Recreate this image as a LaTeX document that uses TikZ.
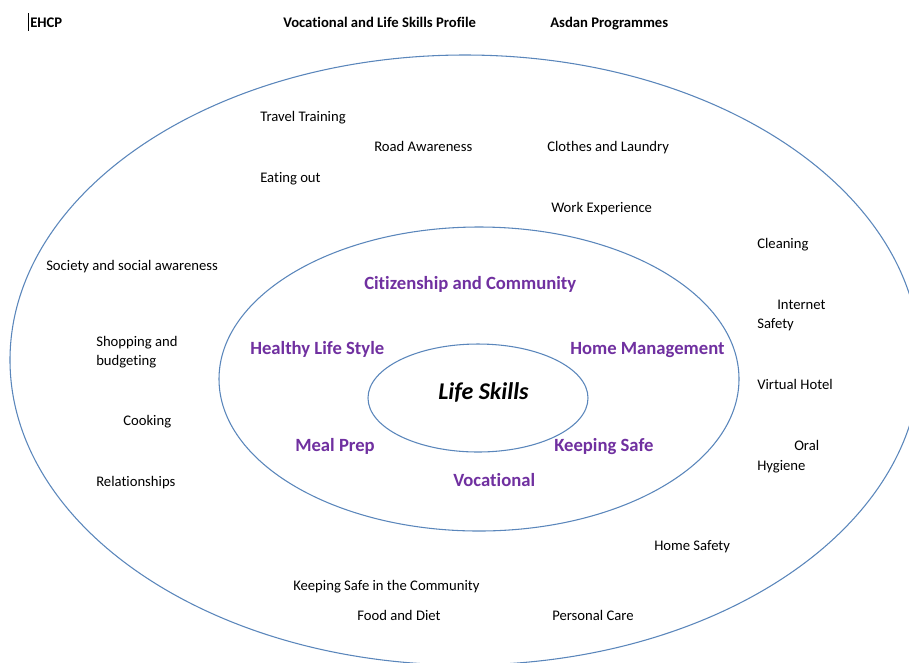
\documentclass[tikz,border=0pt]{standalone}
\usepackage{fontspec}
\setmainfont{Carlito}[Ligatures={NoCommon}]
\definecolor{ringblue}{HTML}{5A86BB}
\definecolor{catviolet}{HTML}{7030A0}
\begin{document}
\begin{tikzpicture}[x=0.75pt,y=-0.75pt,
  lbl/.style={anchor=base west, inner sep=0pt, font=\fontsize{11}{13}\selectfont},
  hdr/.style={anchor=base west, inner sep=0pt, font=\fontsize{11}{13}\selectfont\bfseries},
  cat/.style={anchor=base west, inner sep=0pt, font=\fontsize{14}{17}\selectfont\bfseries, text=catviolet},
  ring/.style={draw=ringblue, line width=0.8pt}]
\useasboundingbox (0,0) rectangle (909,662);
\fill[white] (0,0) rectangle (909,662);
\clip (0,0) rectangle (909,662);
% rings
\draw[ring] (465,360) ellipse [x radius=455, y radius=305];
\draw[ring] (479,379) ellipse [x radius=260, y radius=152];
\draw[ring] (478,398) ellipse [x radius=110, y radius=54];
% header
\draw[line width=0.6pt] (28.5,13) -- (28.5,31);
\node[hdr] (ehcp) at (30,27) {EHCP};
\node[hdr] (profile) at (283,27) {Vocational and Life Skills Profile};
\node[hdr] (asdan) at (550,27) {Asdan Programmes};
% outer ring items
\node[lbl] (travel) at (260,121) {Travel Training};
\node[lbl] (road) at (374,151) {Road Awareness};
\node[lbl] (clothes) at (547,151) {Clothes and Laundry};
\node[lbl] (eating) at (260,182) {Eating out};
\node[lbl] (work) at (551,212) {Work Experience};
\node[lbl] (cleaning) at (757,248) {Cleaning};
\node[lbl] (society) at (46,270) {Society and social awareness};
\node[lbl] (internet) at (777,309) {Internet};
\node[lbl] (internet2) at (757,328) {Safety};
\node[lbl] (shopping) at (96,346) {Shopping and};
\node[lbl] (shopping2) at (96,365) {budgeting};
\node[lbl] (hotel) at (757,389) {Virtual Hotel};
\node[lbl] (cooking) at (123,425) {Cooking};
\node[lbl] (oral) at (794,450) {Oral};
\node[lbl] (oral2) at (757,470) {Hygiene};
\node[lbl] (relations) at (96,486) {Relationships};
\node[lbl] (homesafety) at (654,550) {Home Safety};
\node[lbl] (ksc) at (293,590) {Keeping Safe in the Community};
\node[lbl] (food) at (357,620) {Food and Diet};
\node[lbl] (personal) at (552,620) {Personal Care};
% middle ring categories
\node[cat] (citizen) at (364,289) {Citizenship and Community};
\node[cat] (healthy) at (250,354) {Healthy Life Style};
\node[cat] (homemgmt) at (570,354) {Home Management};
\node[cat] (meal) at (295,451) {Meal Prep};
\node[cat] (keepsafe) at (554,451) {Keeping Safe};
\node[cat] (vocational) at (453,486) {Vocational};
% centre
\node[anchor=base west, inner sep=0pt, font=\fontsize{18}{22}\selectfont\bfseries\itshape] (life) at (438,399) {Life Skills};
\end{tikzpicture}
\end{document}
